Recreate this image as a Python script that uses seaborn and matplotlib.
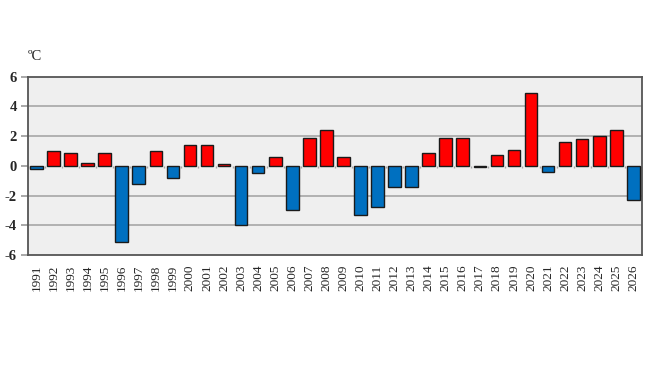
import numpy as np
import pandas as pd
import matplotlib
matplotlib.use('Agg')
import matplotlib.pyplot as plt
import seaborn as sns

# ── Data ───────────────────────────────────────────────
years = [str(y) for y in range(1991, 2027)]
anomaly = [-0.2, 1.0, 0.9, 0.2, 0.9, -5.1, -1.2, 1.0, -0.8, 1.4,
           1.4, 0.1, -4.0, -0.5, 0.6, -3.0, 1.9, 2.4, 0.6, -3.3,
           -2.8, -1.4, -1.4, 0.9, 1.9, 1.9, -0.1, 0.7, 1.1, 4.9,
           -0.4, 1.6, 1.8, 2.0, 2.4, -2.3]
y_ticks = [-6, -4, -2, 0, 2, 4, 6]
unit_label = 'ºC'

df = pd.DataFrame({'year': years, 'anomaly': anomaly})
df['sign'] = np.where(df['anomaly'] >= 0, 'pos', 'neg')

# ── Plot ───────────────────────────────────────────────
sns.set_style('white')
plt.rcParams['font.family'] = ['Liberation Serif', 'DejaVu Serif']
plt.rcParams['axes.unicode_minus'] = False

fig = plt.figure(figsize=(6.49, 3.84), dpi=100)
ax = fig.add_axes([0.043, 0.336, 0.946, 0.464])
ax.set_facecolor('#efefef')

sns.barplot(data=df, x='year', y='anomaly', hue='sign',
            palette={'pos': '#ff0000', 'neg': '#0070c0'}, saturation=1,
            dodge=False, legend=False, width=0.74,
            edgecolor='#1a1a1a', linewidth=1.0, ax=ax, zorder=3)

ax.set_ylim(-6, 6)
ax.set_xlim(-0.5, len(years) - 0.5)
ax.set_yticks(y_ticks)
for t in y_ticks[1:-1]:
    if t != 0:
        ax.axhline(t, color='#a6a6a6', linewidth=1.2, zorder=1)

# small tick marks between categories on the zero line
edges = np.arange(len(years) + 1) - 0.5
ax.vlines(edges, -0.12, 0, color='#a6a6a6', linewidth=1.0, zorder=2)

for s in ax.spines.values():
    s.set_color('#555555')
    s.set_linewidth(1.3)

ax.tick_params(axis='y', labelsize=10.5, length=5, width=1.2, left=True,
               color='#9a9a9a', pad=3)
for lbl in ax.get_yticklabels():
    lbl.set_fontweight('bold')
ax.tick_params(axis='x', labelsize=9.5, length=0, pad=7, labelrotation=90)
ax.set_xlabel('')
ax.set_ylabel('')
fig.text(0.043, 0.835, unit_label, fontsize=10.5, ha='left', va='bottom')

plt.savefig('out.png', dpi=100)
